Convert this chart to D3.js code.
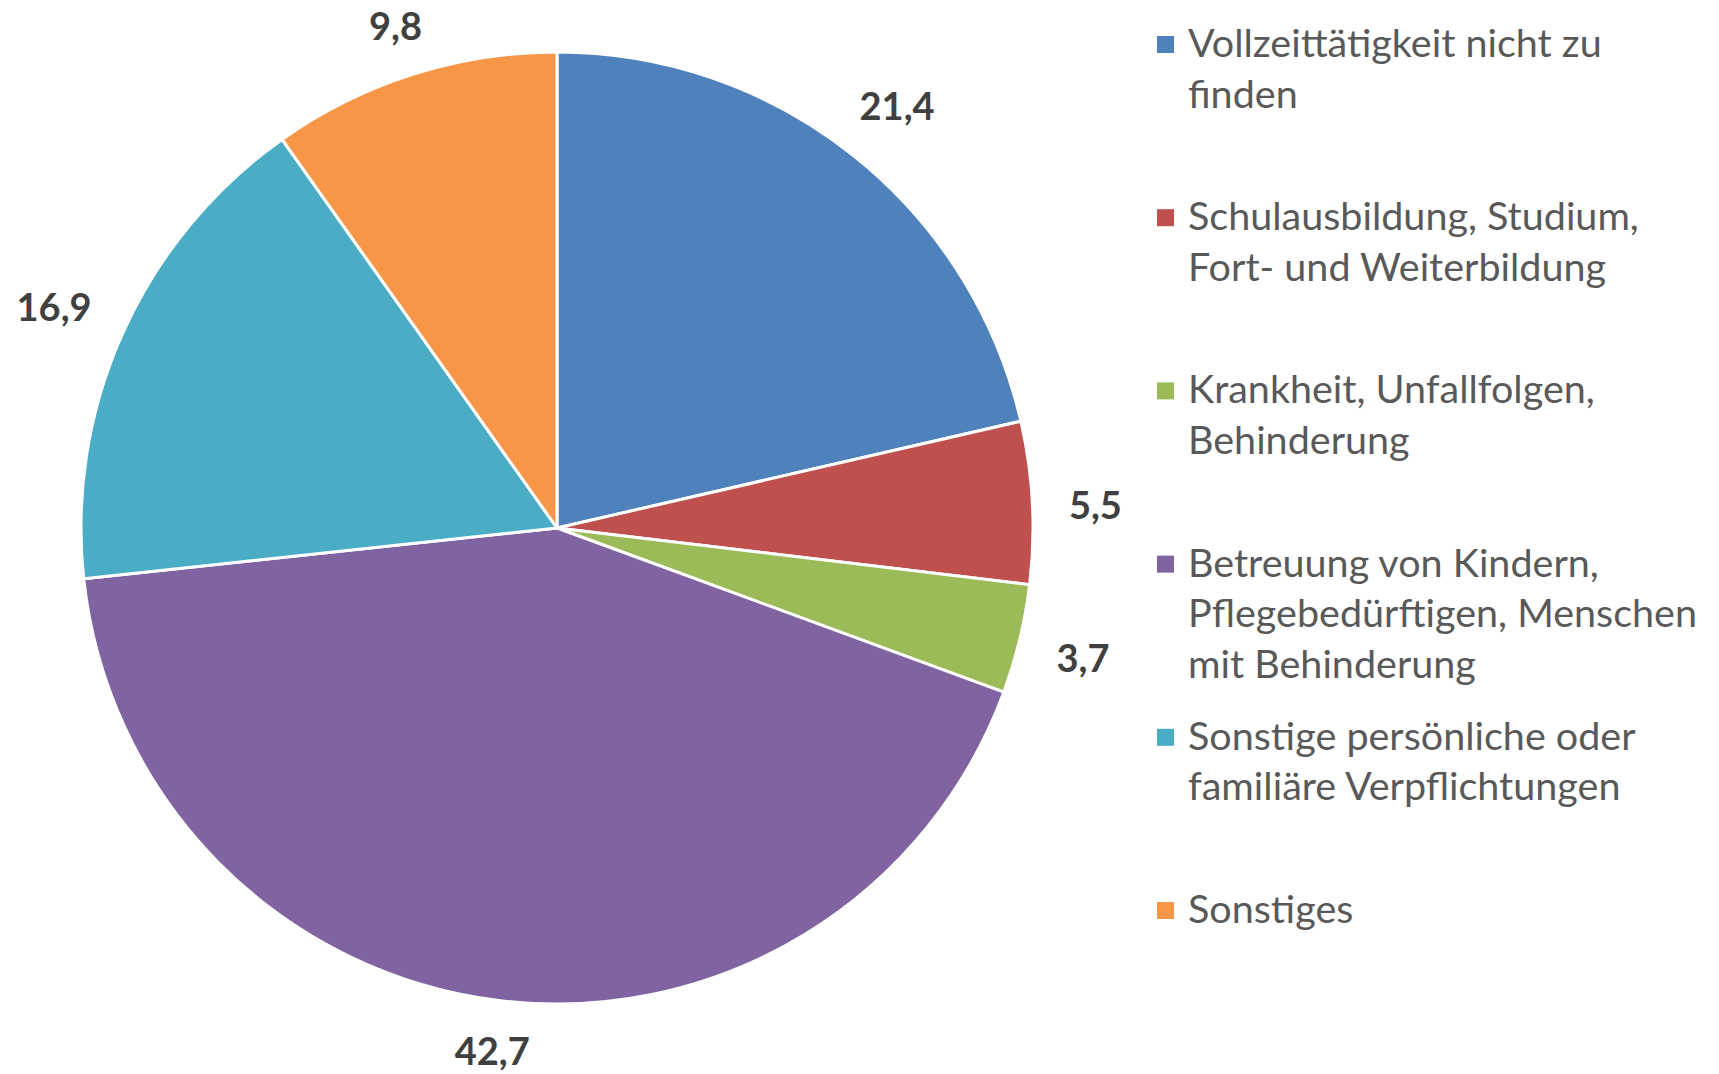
<!DOCTYPE html>
<html>
<head>
<meta charset="utf-8">
<script src="https://cdn.jsdelivr.net/npm/d3@7"></script>
<style>
  body { margin: 0; background: #fff; }
  text { font-family: Lato, "Open Sans", sans-serif; }
</style>
</head>
<body>
<script>
// categories (legend text, line breaks as in the original legend)
var categories = [
  "Vollzeittätigkeit nicht zu\nfinden",
  "Schulausbildung, Studium,\nFort- und Weiterbildung",
  "Krankheit, Unfallfolgen,\nBehinderung",
  "Betreuung von Kindern,\nPflegebedürftigen, Menschen\nmit Behinderung",
  "Sonstige persönliche oder\nfamiliäre Verpflichtungen",
  "Sonstiges"
];
var values = [21.4, 5.5, 3.7, 42.7, 16.9, 9.8];
var valueLabels = ["21,4", "5,5", "3,7", "42,7", "16,9", "9,8"];
var colors = ["#4F81BD", "#C0504D", "#9BBB59", "#8064A2", "#4BACC6", "#F79646"];

var width = 1719, height = 1074;
var cx = 557, cy = 528, radius = 476;

var svg = d3.select('body').append('svg')
    .attr('width', width)
    .attr('height', height);

var data = values.map(function (v, i) {
  return { name: categories[i], value: v, label: valueLabels[i], color: colors[i] };
});

var pie = d3.pie().sort(null).value(function (d) { return d.value; });
var arc = d3.arc().innerRadius(0).outerRadius(radius);

var g = svg.append('g').attr('transform', 'translate(' + cx + ',' + cy + ')');

var arcs = pie(data);

g.selectAll('path')
  .data(arcs)
  .enter()
  .append('path')
  .attr('d', arc)
  .attr('fill', function (d) { return d.data.color; })
  .attr('stroke', '#fff')
  .attr('stroke-width', 3)
  .attr('stroke-linejoin', 'round');

// data labels, placed just outside the slice end (like Excel "outside end")
var labelSize = 38;
var labels = g.selectAll('text.val')
  .data(arcs)
  .enter()
  .append('text')
  .attr('class', 'val')
  .attr('text-anchor', 'middle')
  .attr('font-size', labelSize)
  .attr('font-weight', 'bold')
  .attr('fill', '#404040')
  .text(function (d) { return d.data.label; });

labels.each(function (d) {
  var w = this.getComputedTextLength();
  var h = labelSize * 0.72;
  var a = (d.startAngle + d.endAngle) / 2;
  var ux = Math.sin(a), uy = -Math.cos(a);
  var r = radius + 36 + Math.abs(ux) * w / 2 + Math.abs(uy) * h / 2;
  var dy = 6 - 9 * Math.max(uy, 0);
  d3.select(this)
    .attr('x', ux * r)
    .attr('y', uy * r + h / 2 + dy);
});

// legend
var legendX = 1157, legendTop = 57, legendStep = 173.2, lineH = 50.5, legendSize = 39.5;
var legend = svg.append('g');

var items = legend.selectAll('g')
  .data(data)
  .enter()
  .append('g')
  .attr('transform', function (d, i) { return 'translate(' + legendX + ',' + (legendTop + i * legendStep) + ')'; });

items.append('rect')
  .attr('x', 0)
  .attr('y', -21)
  .attr('width', 17)
  .attr('height', 17)
  .attr('fill', function (d) { return d.color; });

items.append('text')
  .attr('font-size', legendSize)
  .attr('fill', '#595959')
  .each(function (d) {
    var t = d3.select(this);
    d.name.split('\n').forEach(function (line, k) {
      t.append('tspan')
        .attr('x', 31)
        .attr('y', k * lineH)
        .text(line);
    });
  });
</script>
</body>
</html>
